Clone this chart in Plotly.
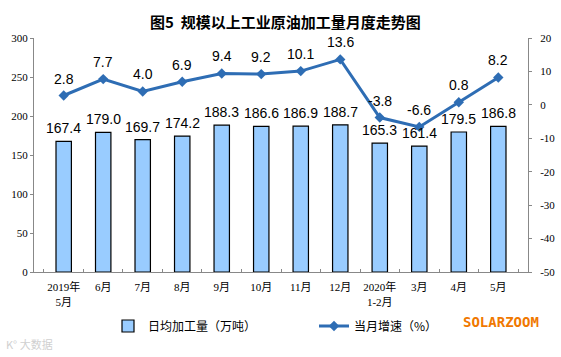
import plotly.graph_objects as go

categories = ["2019年<br>5月", "6月", "7月", "8月", "9月", "10月", "11月", "12月",
              "2020年<br>1-2月", "3月", "4月", "5月"]
daily_output = [167.4, 179.0, 169.7, 174.2, 188.3, 186.6, 186.9, 188.7, 165.3, 161.4, 179.5, 186.8]
growth = [2.8, 7.7, 4.0, 6.9, 9.4, 9.2, 10.1, 13.6, -3.8, -6.6, 0.8, 8.2]
left_ticks = [0, 50, 100, 150, 200, 250, 300]
right_ticks = [-50, -40, -30, -20, -10, 0, 10, 20]

bar_color = "#99CCFF"
line_color = "#2E6DB4"
label_font = dict(family="Liberation Sans, Arial", size=14, color="#000000")
tick_font = dict(family="Liberation Serif, Noto Sans CJK SC", size=11, color="#000000")

W, H = 561, 357
L, R, T, B = 34, 33, 38, 85
pw, ph = W - L - R, H - T - B


def px_x(x):
    return (x - L) / pw


def px_y(y):
    return (H - y - B) / ph


fig = go.Figure()
fig.add_trace(go.Bar(
    x=categories, y=daily_output, name="日均加工量（万吨）",
    marker=dict(color=bar_color, line=dict(color="#000000", width=1.2)),
    width=0.39, yaxis="y", legend="legend",
))
fig.add_trace(go.Scatter(
    x=categories, y=growth, name="当月增速（%）", mode="lines+markers",
    line=dict(color=line_color, width=3),
    marker=dict(symbol="diamond", size=8, color=line_color),
    yaxis="y2", legend="legend2",
))

annotations = []
for c, v in zip(categories, daily_output):
    annotations.append(dict(x=c, y=v, xref="x", yref="y", text=f"{v:.1f}",
                            showarrow=False, yanchor="bottom", yshift=3, font=label_font))
for c, v in zip(categories, growth):
    annotations.append(dict(x=c, y=v, xref="x", yref="y2", text=f"{v:.1f}",
                            showarrow=False, yanchor="bottom", yshift=7, font=label_font))

annotations.append(dict(x=px_x(285), y=px_y(21), xref="paper", yref="paper", xanchor="center",
                        yanchor="middle", showarrow=False,
                        text="图5  规模以上工业原油加工量月度走势图",
                        font=dict(family="Noto Sans CJK SC", size=15, color="#000000", weight=600)))
annotations.append(dict(x=px_x(541), y=px_y(322), xref="paper", yref="paper", showarrow=False,
                        text="<b>SOLARZOOM</b>", xanchor="right", yanchor="middle",
                        font=dict(family="DejaVu Sans Mono", size=14, color="#F07800")))
annotations.append(dict(x=px_x(4), y=px_y(354), xref="paper", yref="paper", showarrow=False,
                        text="K° 大数据", xanchor="left", yanchor="bottom",
                        font=dict(family="Noto Sans CJK SC", size=11, color="#D0D0D0")))

legend_font = dict(family="Noto Sans CJK SC", size=12, color="#000000")

fig.update_layout(
    width=W, height=H,
    margin=dict(l=L, r=R, t=T, b=B, autoexpand=False),
    plot_bgcolor="#FFFFFF", paper_bgcolor="#FFFFFF",
    showlegend=True,
    legend=dict(orientation="h", x=px_x(108), xanchor="left",
                y=px_y(326), yanchor="middle", font=legend_font,
                bgcolor="rgba(0,0,0,0)"),
    legend2=dict(orientation="h", x=px_x(314), xanchor="left",
                 y=px_y(326), yanchor="middle", font=legend_font,
                 bgcolor="rgba(0,0,0,0)"),
    xaxis=dict(type="category", showline=True, linecolor="#888888", linewidth=1,
               ticks="inside", ticklen=3, tickcolor="#888888", tickson="boundaries",
               tickfont=tick_font, tickangle=0, showgrid=False, automargin=False,
               ticklabelstandoff=5),
    yaxis=dict(range=[0, 300], tickvals=left_ticks, ticktext=[str(v) for v in left_ticks],
               showline=True, linecolor="#888888",
               linewidth=1, ticks="outside", ticklen=3, tickcolor="#888888",
               tickfont=tick_font, showgrid=False, zeroline=False, automargin=False),
    yaxis2=dict(range=[-50, 20], tickvals=right_ticks, ticktext=[str(v) for v in right_ticks],
                overlaying="y", side="right",
                showline=True, linecolor="#888888", linewidth=1, ticks="outside", ticklen=3,
                tickcolor="#888888", tickfont=tick_font, showgrid=False, zeroline=False,
                automargin=False, ticklabelstandoff=6),
    annotations=annotations,
)

fig.write_html("out.html", post_script="document.body.style.margin='0';",
               config={"displayModeBar": False})
